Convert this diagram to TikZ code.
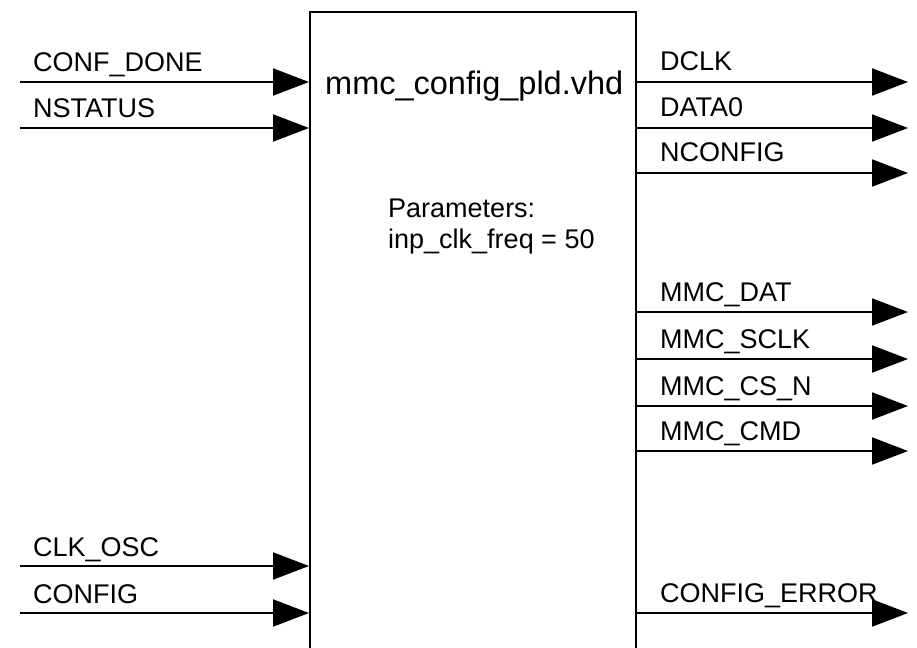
\documentclass[tikz,border=0pt]{standalone}
\usepackage{fontspec}
\setmainfont{Liberation Sans}
\usetikzlibrary{arrows.meta}
\begin{document}
\begin{tikzpicture}[x=1pt,y=-1pt,
  sig/.style={line width=2pt,-{Triangle[length=36pt,width=27pt]}},
  box/.style={line width=2.5pt},
  lbl/.style={anchor=base west,inner sep=0pt,font=\fontsize{27}{31}\selectfont},
  ttl/.style={anchor=base west,inner sep=0pt,font=\fontsize{32.5}{38}\selectfont}]
\useasboundingbox (0,0) rectangle (917,647);
% block outline (open at bottom)
\coordinate (bl) at (310,650);
\coordinate (tl) at (310,12);
\coordinate (tr) at (636,12);
\coordinate (br) at (636,650);
\draw[box] (bl) -- (tl) -- (tr) -- (br);
\node[ttl] (title) at (325,95) {mmc\_config\_pld.vhd};
\node[lbl] (par1) at (388,217) {Parameters:};
\node[lbl] (par2) at (388,248) {inp\_clk\_freq = 50};
% inputs
\foreach \n/\y/\t in {a/82/CONF\_DONE, b/128/NSTATUS, c/566/CLK\_OSC, d/613/CONFIG}{
  \coordinate (in\n) at (20,\y);
  \coordinate (inE\n) at (309,\y);
  \draw[sig] (in\n) -- (inE\n);
  \node[lbl] (inL\n) at (33,\y-10) {\t};
}
% outputs
\foreach \n/\y/\t in {a/82/DCLK, b/128/DATA0, c/173/NCONFIG, d/312/MMC\_DAT, e/359/MMC\_SCLK, f/406/MMC\_CS\_N, g/451/MMC\_CMD, h/613/CONFIG\_ERROR}{
  \coordinate (out\n) at (636,\y);
  \coordinate (outE\n) at (908,\y);
  \draw[sig] (out\n) -- (outE\n);
  \node[lbl] (outL\n) at (660,\y-11) {\t};
}
\end{tikzpicture}
\end{document}
